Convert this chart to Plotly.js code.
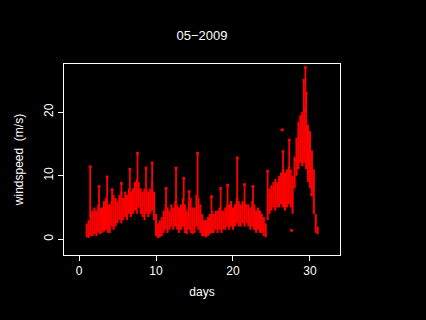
<!DOCTYPE html>
<html>
<head>
<meta charset="utf-8">
<script src="https://cdn.plot.ly/plotly-3.0.1.min.js"></script>
<style>html,body{margin:0;padding:0;background:#000;}#chart{width:426px;height:320px;}</style>
</head>
<body>
<div id="chart"></div>
<script>
// Windspeed cloud, every quarter day: lower and upper edge (m/s)
var days = [1,1.25,1.5,1.75,2,2.25,2.5,2.75,3,3.25,3.5,3.75,4,4.25,4.5,4.75,5,5.25,5.5,5.75,6,6.25,6.5,6.75,7,7.25,7.5,7.75,8,8.25,8.5,8.75,9,9.25,9.5,9.75,10,10.25,10.5,10.75,11,11.25,11.5,11.75,12,12.25,12.5,12.75,13,13.25,13.5,13.75,14,14.25,14.5,14.75,15,15.25,15.5,15.75,16,16.25,16.5,16.75,17,17.25,17.5,17.75,18,18.25,18.5,18.75,19,19.25,19.5,19.75,20,20.25,20.5,20.75,21,21.25,21.5,21.75,22,22.25,22.5,22.75,23,23.25,23.5,23.75,24,24.25,24.5,24.75,25,25.25,25.5,25.75,26,26.25,26.5,26.75,27,27.25,27.5,27.75,28,28.25,28.5,28.75,29,29.25,29.5,29.75,30,30.25,30.5,30.75,31];
var speedLow = [0.3,0.2,0.5,0.5,0.8,0.5,1.0,0.8,1.0,1.2,1.5,1.0,1.0,2.0,1.5,2.0,2.5,3.0,2.5,3.0,3.5,3.0,4.0,3.5,4.0,4.5,4.0,5.0,4.0,3.5,3.0,4.0,3.5,4.0,4.5,3.0,0.5,0.2,0.3,0.5,1.0,1.5,1.0,1.5,2.0,1.5,2.0,1.5,1.0,1.5,2.0,1.0,0.8,1.5,1.0,0.8,1.0,2.0,1.5,1.0,0.5,0.5,0.3,0.5,0.8,1.0,1.0,1.5,1.0,1.5,1.0,1.5,1.5,2.0,1.5,2.0,1.5,2.0,2.5,2.0,2.0,2.5,2.0,2.5,2.0,1.5,2.0,1.5,1.0,1.5,1.0,1.0,0.5,0.3,3.0,4.0,4.5,5.0,4.5,5.0,5.0,5.5,5.0,4.5,5.0,5.5,5.0,4.0,8.0,10.0,11.0,12.0,11.5,12.0,11.0,9.0,8.0,7.0,4.0,1.0,0.8];
var speedHigh = [2.5,3.0,4.0,4.5,5.0,4.5,5.5,5.0,5.0,6.0,6.5,5.5,5.5,6.0,7.0,6.5,6.0,7.0,7.5,6.5,7.5,7.0,8.0,7.5,8.0,9.0,9.5,9.0,8.0,7.5,8.0,8.0,7.5,8.0,9.0,7.5,4.0,2.5,3.0,3.5,4.5,5.5,5.0,4.5,5.5,5.0,6.0,5.5,5.0,5.5,6.5,5.5,4.5,6.0,6.5,5.0,5.0,7.0,6.5,5.5,4.0,3.0,3.0,3.5,4.0,4.5,4.0,4.5,4.5,5.0,4.5,4.5,5.0,5.5,5.5,6.0,5.0,5.5,6.5,6.0,5.5,6.0,6.0,5.5,5.5,5.0,6.0,5.5,4.5,5.0,4.5,4.0,3.5,2.5,7.0,8.0,8.5,9.0,9.5,9.0,10.0,10.5,11.0,10.5,11.0,11.5,11.0,10.0,13.0,16.0,18.5,19.5,20.0,20.5,19.0,18.0,17.0,14.0,11.0,4.0,2.0];
// Gust streaks rising above the cloud
var gustDay  = [1.45,2.6,3.65,4.3,5.5,6.6,7.6,8.7,9.5,11.3,12.6,13.6,14.3,15.4,17.2,18.4,19.3,20.55,21.5,22.6,24.5,26.5,27.3,29.2,29.4,29.5];
var gustBase = [3.5,5.0,5.5,6.0,7.0,7.5,9.0,8.0,8.5,5.0,5.5,6.0,6.0,6.5,4.5,4.5,5.5,6.0,6.0,5.5,6.5,10.5,11.0,20.0,20.0,19.0];
var gustTop  = [11.4,8.3,9.8,7.8,8.8,11.0,13.5,11.2,12.0,8.0,11.2,9.6,7.5,13.5,6.7,8.0,8.5,12.8,8.6,8.3,10.7,13.8,15.6,25.0,27.0,23.0];
// Isolated readings
var loneDay = [26.4,27.6,30.2];
var loneSpeed = [17.2,1.4,7.0];
var xTicks = [0,10,20,30];
var yTicks = [0,10,20];

var red = '#ff0000';
var mid = days.map(function(d,i){return (speedLow[i]+speedHigh[i])/2;});
var gMid = gustDay.map(function(d,i){return (gustBase[i]+gustTop[i])/2;});

var traces = [
  {type:'scatter', mode:'markers', x:days, y:mid, hoverinfo:'skip',
   marker:{size:1, color:red, symbol:'square', opacity:0},
   error_y:{type:'data', symmetric:false,
     array:speedHigh.map(function(h,i){return h-mid[i];}),
     arrayminus:speedLow.map(function(l,i){return mid[i]-l;}),
     color:red, thickness:2.1, width:0}},
  {type:'scatter', mode:'markers', x:gustDay, y:gMid, hoverinfo:'skip',
   marker:{size:1, color:red, symbol:'square', opacity:0},
   error_y:{type:'data', symmetric:false,
     array:gustTop.map(function(h,i){return h-gMid[i];}),
     arrayminus:gustBase.map(function(l,i){return gMid[i]-l;}),
     color:red, thickness:1.8, width:0}},
  {type:'scatter', mode:'markers', x:gustDay.concat(loneDay), y:gustTop.concat(loneSpeed), hoverinfo:'skip',
   marker:{size:2.8, color:red, symbol:'square'}}
];

var axFont = {family:'Liberation Sans, DejaVu Sans, sans-serif', size:12, color:'#ffffff'};
var layout = {
  width:426, height:320,
  paper_bgcolor:'#000000', plot_bgcolor:'#000000',
  margin:{l:64, r:86, t:64, b:65},
  showlegend:false,
  title:{text:'05−2009', font:{family:'Liberation Sans, DejaVu Sans, sans-serif', size:13, color:'#ffffff'},
         x:0.474, xanchor:'center', y:0.89, yanchor:'middle'},
  xaxis:{range:[-1.95,33.9], tickvals:xTicks, ticktext:xTicks.map(String),
         showgrid:false, zeroline:false, showline:true, mirror:true, linecolor:'#ffffff', linewidth:1,
         ticks:'outside', ticklen:5, tickcolor:'#ffffff', tickwidth:1, tickfont:axFont,
         title:{text:'days', font:axFont, standoff:10}},
  yaxis:{range:[-2.47,27.56], tickvals:yTicks, ticktext:yTicks.map(String), tickangle:-90,
         showgrid:false, zeroline:false, showline:true, mirror:true, linecolor:'#ffffff', linewidth:1,
         ticks:'outside', ticklen:5, tickcolor:'#ffffff', tickwidth:1, tickfont:axFont,
         title:{text:'windspeed  (m/s)', font:axFont, standoff:16}}
};
Plotly.newPlot('chart', traces, layout, {staticPlot:true, displayModeBar:false});
</script>
</body>
</html>
